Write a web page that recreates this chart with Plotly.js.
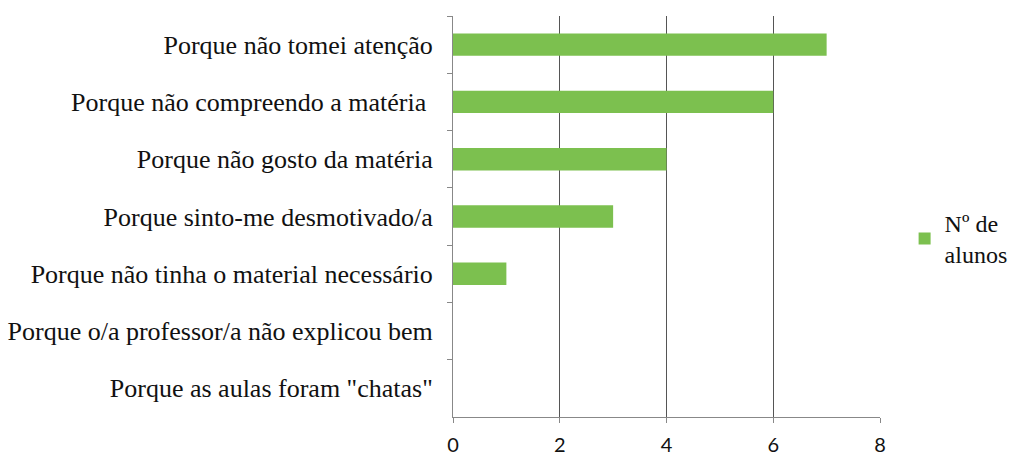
<!DOCTYPE html>
<html><head><meta charset="utf-8">
<script src="https://cdn.plot.ly/plotly-3.0.1.min.js"></script>
<style>html,body{margin:0;padding:0;background:#fff}#chart{width:1013px;height:459px}</style>
</head><body><div id="chart"></div>
<script>
const categories = [
  "Porque não tomei atenção",
  "Porque não compreendo a matéria ",
  "Porque não gosto da matéria",
  "Porque sinto-me desmotivado/a",
  "Porque não tinha o material necessário",
  "Porque o/a professor/a não explicou bem",
  "Porque as aulas foram \"chatas\""
];
const values = [7, 6, 4, 3, 1, 0, 0];
const seriesName = "Nº de<br>alunos";
const xTicks = [0, 2, 4, 6, 8];

const trace = {
  type: 'bar', orientation: 'h',
  y: categories, x: values, name: seriesName,
  marker: {color: '#7cc04f', line: {width: 0}},
  showlegend: true
};
const layout = {
  width: 1013, height: 459,
  margin: {l: 453, r: 133, t: 16, b: 42},
  paper_bgcolor: '#fff', plot_bgcolor: '#fff',
  bargap: 0.61,
  showlegend: true,
  xaxis: {
    range: [0, 8], tickvals: xTicks, ticktext: xTicks.map(String),
    showgrid: true, gridcolor: '#555', gridwidth: 1,
    showline: true, linecolor: '#888', linewidth: 1,
    ticks: 'outside', ticklen: 5, tickcolor: '#888',
    ticklabelstandoff: 5,
    zeroline: false,
    tickfont: {family: 'Lato, "Open Sans", sans-serif', size: 20, color: '#111'}
  },
  yaxis: {
    autorange: 'reversed', type: 'category',
    showline: true, linecolor: '#888', linewidth: 1,
    ticks: 'outside', ticklen: 5, tickcolor: '#888', tickson: 'boundaries',
    ticklabelstandoff: 14,
    tickfont: {family: '"Liberation Serif", "Times New Roman", serif', size: 26, color: '#111'}
  },
  legend: {
    xref: 'container', yref: 'container',
    x: 0.893, xanchor: 'left', y: 0.48, yanchor: 'middle',
    itemwidth: 30,
    font: {family: '"Liberation Serif", "Times New Roman", serif', size: 24, color: '#111'},
    bgcolor: 'rgba(0,0,0,0)'
  }
};
Plotly.newPlot('chart', [trace], layout, {displayModeBar: false, staticPlot: true});
</script></body></html>
